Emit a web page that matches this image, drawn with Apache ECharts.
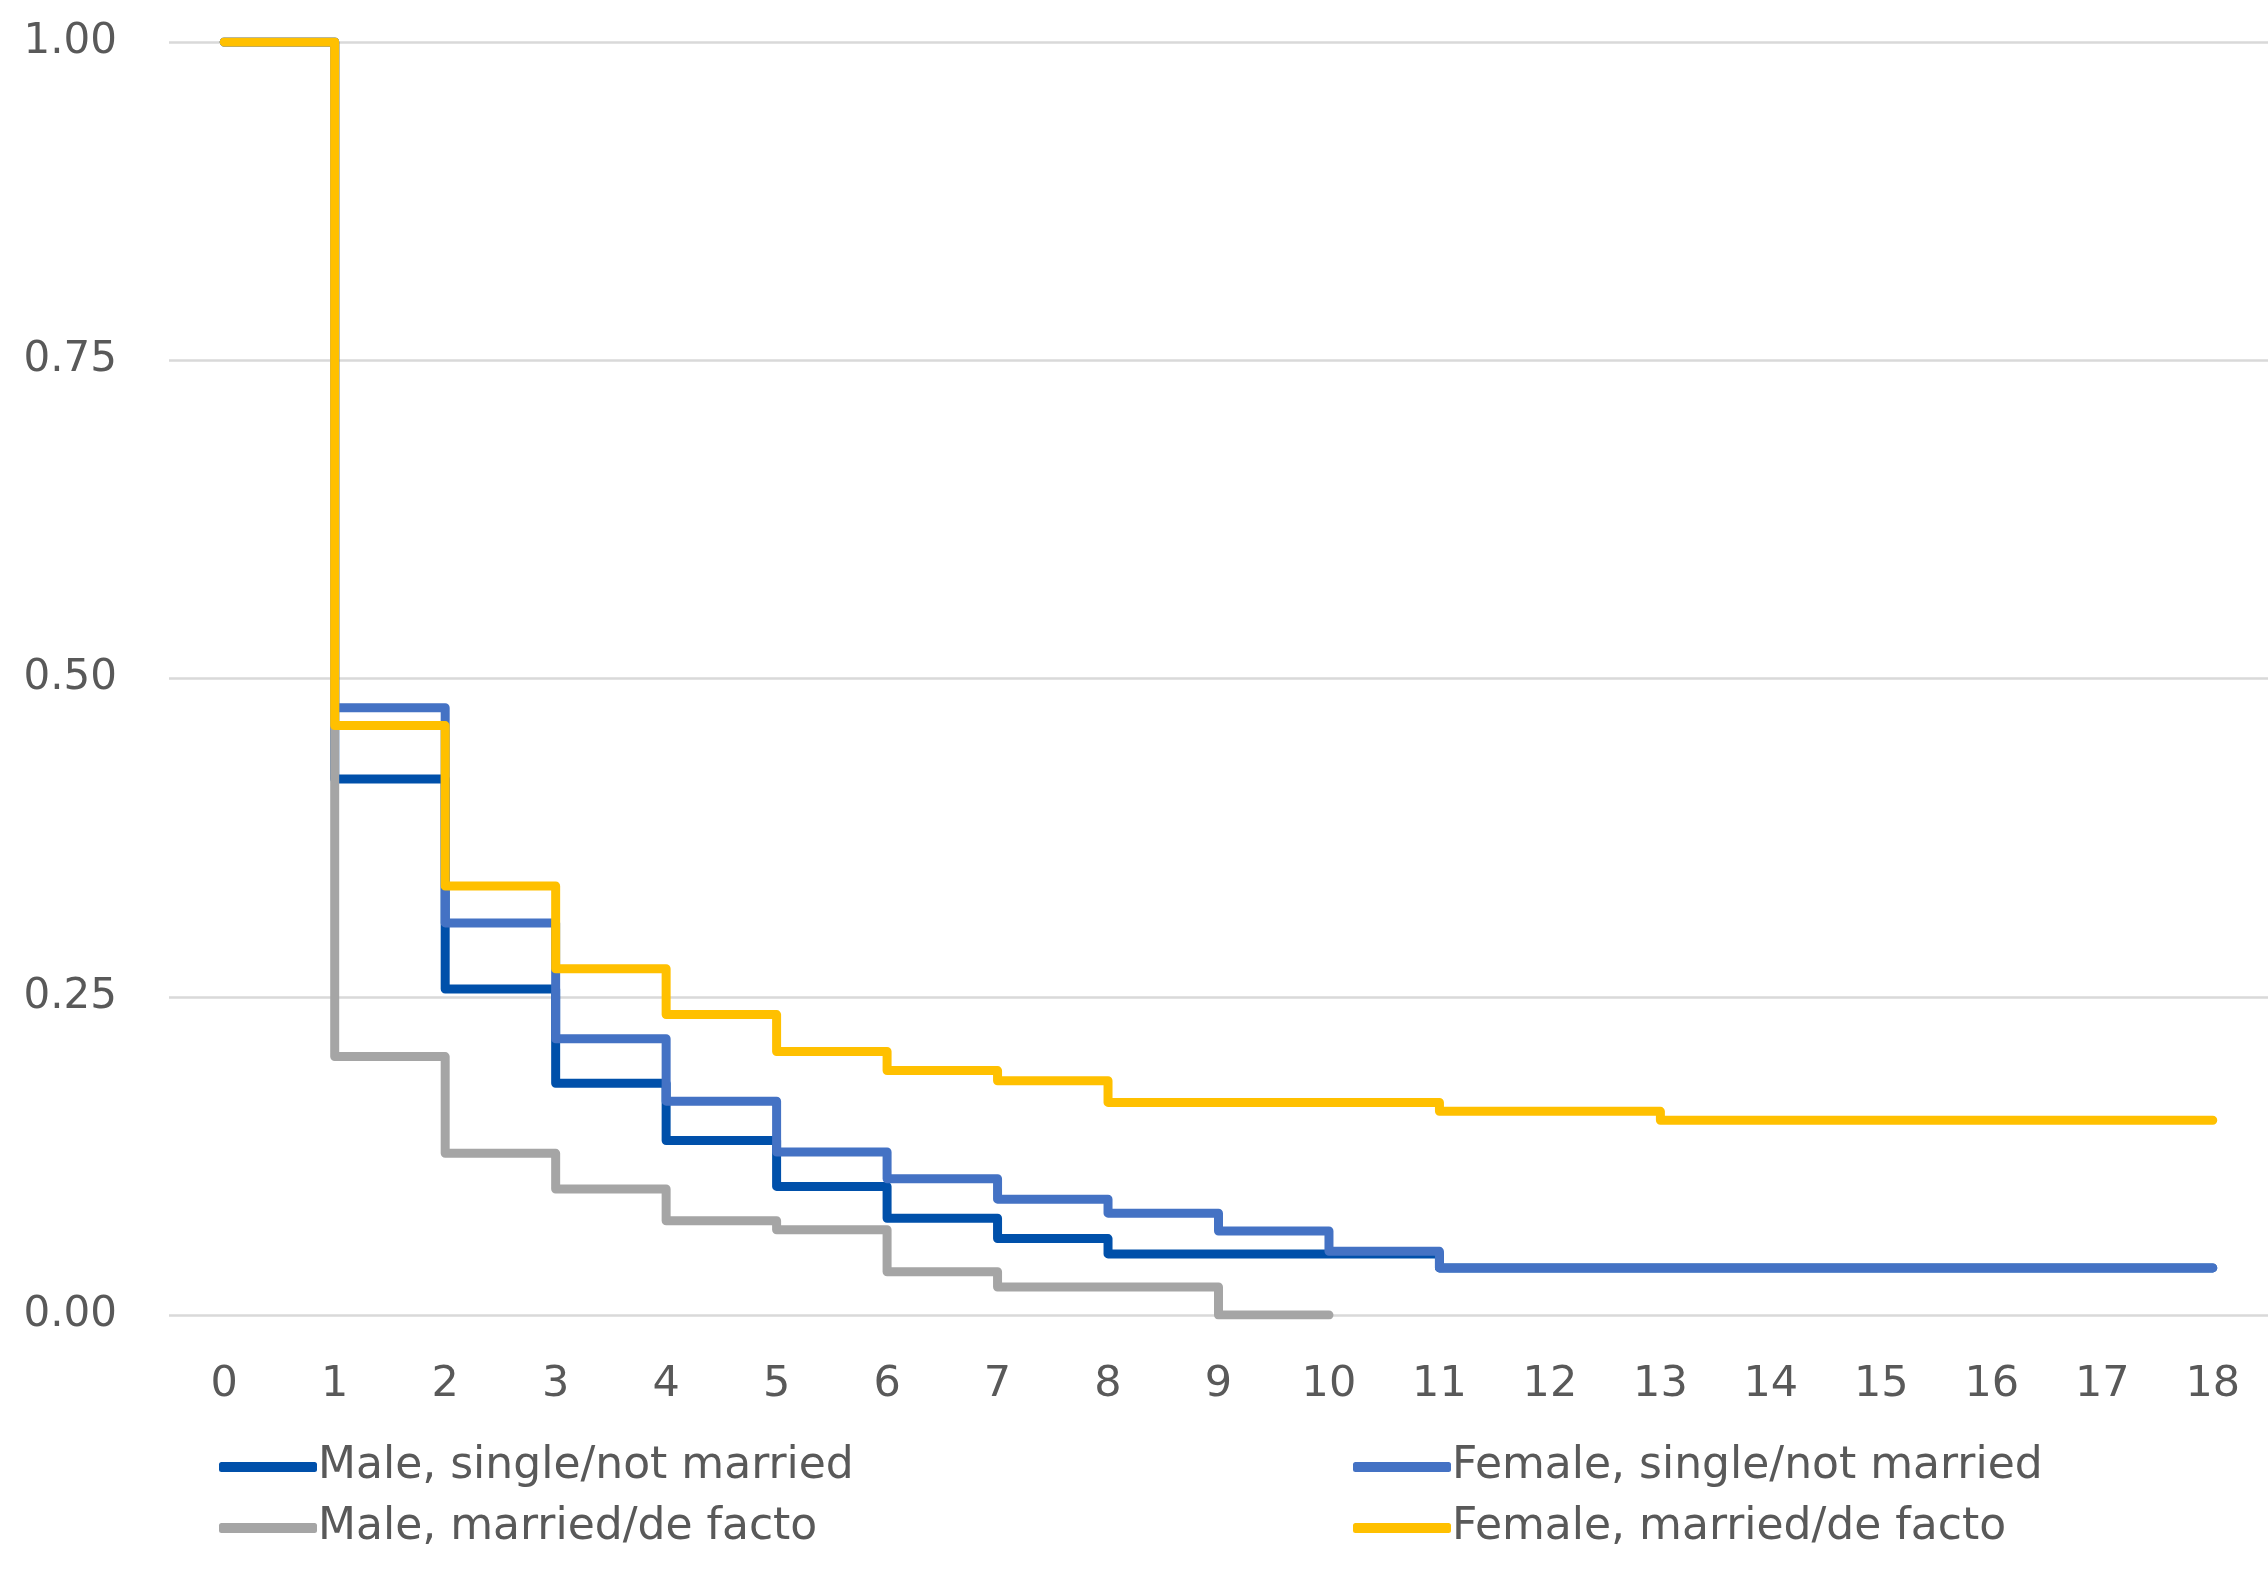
<!DOCTYPE html>
<html>
<head>
<meta charset="utf-8">
<script src="https://cdn.jsdelivr.net/npm/echarts@6/dist/echarts.min.js"></script>
<style>
html,body{margin:0;padding:0;background:#fff;}
#chart{width:2268px;height:1584px;}
</style>
</head>
<body>
<div id="chart"></div>
<script>
var years = ['0','1','2','3','4','5','6','7','8','9','10','11','12','13','14','15','16','17','18'];
var yTicks = [0, 0.25, 0.5, 0.75, 1];

var maleSingle    = [1, 0.421, 0.256, 0.182, 0.137, 0.101, 0.076, 0.060, 0.048, 0.048, 0.048, 0.037, 0.037, 0.037, 0.037, 0.037, 0.037, 0.037, 0.037];
var femaleSingle  = [1, 0.477, 0.308, 0.217, 0.168, 0.128, 0.107, 0.091, 0.080, 0.066, 0.050, 0.037, 0.037, 0.037, 0.037, 0.037, 0.037, 0.037, 0.037];
var maleMarried   = [1, 0.203, 0.127, 0.099, 0.074, 0.067, 0.034, 0.022, 0.022, 0, 0];
var femaleMarried = [1, 0.463, 0.337, 0.272, 0.236, 0.207, 0.192, 0.184, 0.167, 0.167, 0.167, 0.160, 0.160, 0.153, 0.153, 0.153, 0.153, 0.153, 0.153];

var names = ['Male, single/not married', 'Female, single/not married', 'Male, married/de facto', 'Female, married/de facto'];
var colors = ['#0050AA', '#4472C4', '#A5A5A5', '#FFC000'];
var seriesData = [maleSingle, femaleSingle, maleMarried, femaleMarried];

var font = 'DejaVu Sans';
var textColor = '#595959';

var chart = echarts.init(document.getElementById('chart'));
var option = {
  animation: false,
  backgroundColor: '#fff',
  grid: { left: 169, right: 0, top: 42, bottom: 269, containLabel: false },
  xAxis: {
    type: 'category',
    data: years,
    boundaryGap: true,
    axisLine: { show: false },
    axisTick: { show: false },
    axisLabel: { color: textColor, fontFamily: font, fontSize: 43, margin: 48 }
  },
  yAxis: {
    type: 'value',
    min: yTicks[0],
    max: yTicks[yTicks.length - 1],
    interval: 0.25,
    axisLine: { show: false },
    axisTick: { show: false },
    splitLine: { lineStyle: { color: '#D9D9D9', width: 2.5 } },
    axisLabel: {
      color: textColor, fontFamily: font, fontSize: 42, margin: 52,
      formatter: function (v) { return v.toFixed(2); }
    }
  },
  legend: [
    {
      orient: 'vertical', left: 214, top: 1440, itemGap: 17,
      itemWidth: 98, itemHeight: 10, icon: 'roundRect',
      textStyle: { color: textColor, fontFamily: font, fontSize: 44, padding: [0, 0, 0, -4] },
      data: [names[0], names[2]]
    },
    {
      orient: 'vertical', left: 1348, top: 1440, itemGap: 17,
      itemWidth: 98, itemHeight: 10, icon: 'roundRect',
      textStyle: { color: textColor, fontFamily: font, fontSize: 44, padding: [0, 0, 0, -4] },
      data: [names[1], names[3]]
    }
  ],
  series: seriesData.map(function (d, i) {
    return {
      name: names[i],
      type: 'line',
      step: 'end',
      data: d,
      symbol: 'none',
      color: colors[i],
      z: 2 + i,
      lineStyle: { width: 9, color: colors[i], cap: 'round', join: 'round' }
    };
  })
};
chart.setOption(option);
</script>
</body>
</html>
